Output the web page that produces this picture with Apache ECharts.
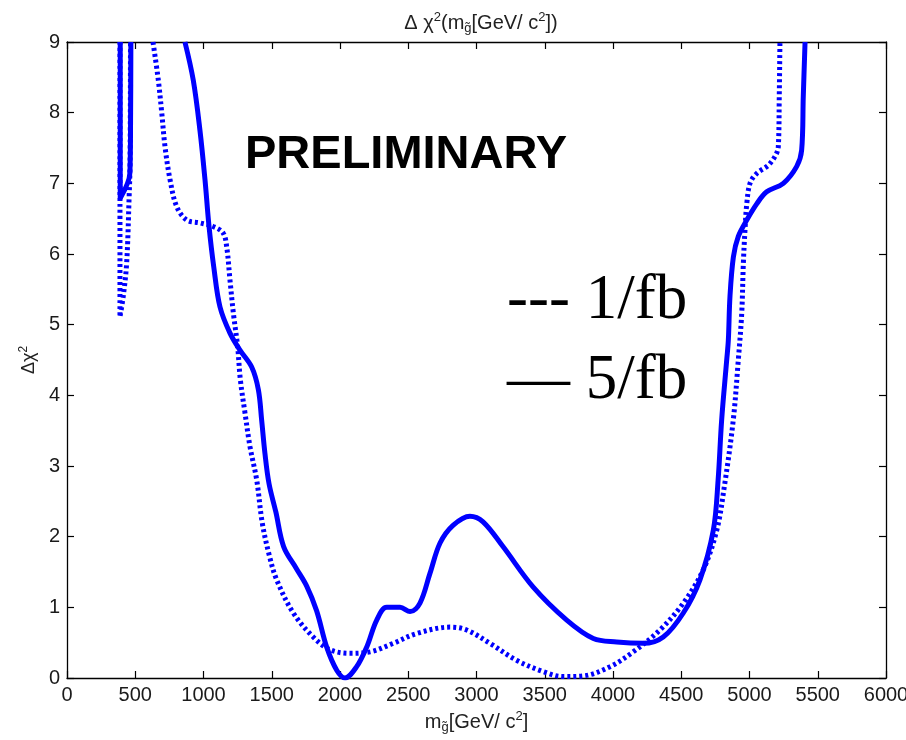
<!DOCTYPE html>
<html>
<head>
<meta charset="utf-8">
<script src="https://cdn.jsdelivr.net/npm/echarts@6/dist/echarts.min.js"></script>
<style>
  html, body { margin: 0; padding: 0; background: #fff; }
  #main { width: 906px; height: 740px; }
</style>
</head>
<body>
<div id="main"></div>
<script>
// 1/fb 曲线（点线），[m, Δχ²]
var dotted1Spike = [[388, 9], [388, 7.0], [388, 5.11], [412, 5.4], [437, 5.87], [455, 6.8], [462, 7.3], [465, 9]];
var dotted1Main = [
  [630, 9], [669, 8.46], [694, 8.0], [718, 7.52], [755, 7.05], [804, 6.67], [877, 6.48], [974, 6.44],
  [1070, 6.39], [1143, 6.3], [1170, 6.1], [1194, 5.63], [1219, 5.16], [1250, 4.69], [1270, 4.22],
  [1304, 3.75], [1341, 3.27], [1390, 2.8], [1430, 2.2], [1480, 1.75], [1536, 1.39], [1658, 0.92],
  [1804, 0.58], [1927, 0.4], [2073, 0.35], [2220, 0.37], [2390, 0.49], [2562, 0.63], [2806, 0.72],
  [2928, 0.68], [3099, 0.49], [3294, 0.25], [3490, 0.09], [3636, 0.02], [3783, 0.03], [3978, 0.16],
  [4148, 0.37], [4344, 0.68], [4515, 1.06], [4661, 1.53], [4760, 2.09], [4815, 2.7], [4881, 3.65],
  [4918, 4.5], [4943, 5.16], [4955, 5.87], [4967, 6.34], [4980, 6.71], [5004, 7.0], [5053, 7.14],
  [5150, 7.28], [5211, 7.52], [5218, 8.23], [5223, 9]
];
// 5/fb 曲线（实线）
var solid5Spike = [[390, 9], [390, 7.5], [390, 6.79], [461, 7.15], [466, 8.0], [468, 9]];
var solid5Main = [
  [864, 9], [925, 8.46], [974, 7.75], [1011, 7.05], [1040, 6.4], [1075, 5.82], [1121, 5.25],
  [1194, 4.88], [1267, 4.64], [1353, 4.4], [1402, 4.08], [1426, 3.65], [1450, 3.18], [1480, 2.75],
  [1530, 2.35], [1587, 1.86], [1680, 1.55], [1756, 1.3], [1829, 0.95], [1902, 0.44], [1976, 0.11],
  [2037, 0.0], [2122, 0.16], [2196, 0.44], [2269, 0.82], [2342, 1.0], [2440, 1.0], [2513, 0.94],
  [2586, 1.06], [2659, 1.48], [2733, 1.91], [2828, 2.16], [2952, 2.29], [3048, 2.21], [3194, 1.86],
  [3414, 1.29], [3661, 0.82], [3856, 0.56], [4027, 0.51], [4222, 0.49], [4368, 0.58], [4515, 0.92],
  [4637, 1.39], [4735, 2.09], [4770, 2.8], [4796, 3.65], [4833, 4.5], [4845, 4.78], [4857, 5.4],
  [4882, 5.96], [4918, 6.25], [4980, 6.48], [5053, 6.71], [5126, 6.88], [5248, 7.0], [5346, 7.24],
  [5382, 7.47], [5394, 8.23], [5407, 9]
];

var xMin = 0, xMax = 6000, xStep = 500;
var yMin = 0, yMax = 9, yStep = 1;

var sans = "'Liberation Sans', Arial, sans-serif";
var blue = '#0000ff';

var myChart = echarts.init(document.getElementById('main'));

var rich = {
  n: { fontSize: 20, fontWeight: 'normal', lineHeight: 24, fontFamily: sans, color: '#222' },
  sup: { fontSize: 13, fontWeight: 'normal', lineHeight: 11, verticalAlign: 'top', fontFamily: sans, color: '#222' },
  sub: { fontSize: 13, fontWeight: 'normal', lineHeight: 9, verticalAlign: 'bottom', fontFamily: sans, color: '#222' }
};

function frameAxis(pos, min, max, step, showLabel) {
  return {
    type: 'value', position: pos, min: min, max: max, interval: step,
    axisLine: { show: true, onZero: false, lineStyle: { color: '#000', width: 1.3 } },
    axisTick: { show: true, inside: true, length: 7, lineStyle: { color: '#000', width: 1.2 } },
    axisLabel: {
      show: showLabel, color: '#1a1a1a', fontSize: 20, fontFamily: sans, margin: 7,
      formatter: function (v) { return String(v); }
    },
    splitLine: { show: false }
  };
}

var xBottom = frameAxis('bottom', xMin, xMax, xStep, true);
xBottom.name = '{n|m}{sub|g̃}{n|[GeV/ c}{sup|2}{n|]}';
xBottom.nameLocation = 'middle';
xBottom.nameGap = 32;
xBottom.nameTextStyle = { rich: rich };

var yLeft = frameAxis('left', yMin, yMax, yStep, true);
yLeft.name = '{n|Δχ}{sup|2}';
yLeft.nameLocation = 'middle';
yLeft.nameGap = 26;
yLeft.nameTextStyle = { rich: { n: { fontSize: 18, lineHeight: 22, fontFamily: sans, color: '#222' }, sup: { fontSize: 12, lineHeight: 10, verticalAlign: 'top', fontFamily: sans, color: '#222' } } };

function lineSeries(data, dashed) {
  return {
    type: 'line', data: data, symbol: 'none', smooth: 0.35,
    z: dashed ? 2 : 3, silent: true, clip: true,
    lineStyle: dashed
      ? { color: blue, width: 5, type: [3, 3], cap: 'butt' }
      : { color: blue, width: 5 }
  };
}

myChart.setOption({
  backgroundColor: '#fff',
  animation: false,
  title: {
    text: '{n|Δ χ}{sup|2}{n|(m}{sub|g̃}{n|[GeV/ c}{sup|2}{n|])}',
    left: 476, top: 6, textAlign: 'center',
    textStyle: { fontWeight: 'normal', rich: rich }
  },
  grid: { left: 67, right: 20, top: 42, bottom: 62, containLabel: false, outerBoundsMode: 'none' },
  xAxis: [xBottom, frameAxis('top', xMin, xMax, xStep, false)],
  yAxis: [yLeft, frameAxis('right', yMin, yMax, yStep, false)],
  series: [
    lineSeries(dotted1Spike, true),
    lineSeries(dotted1Main, true),
    lineSeries(solid5Spike, false),
    lineSeries(solid5Main, false)
  ],
  graphic: [
    { type: 'text', left: 245, top: 132, style: { text: 'PRELIMINARY', font: "bold 47px 'Liberation Sans', Arial, sans-serif", fill: '#000' } },
    { type: 'text', left: 507, top: 270, style: { text: '--- 1/fb', font: "63px 'Liberation Serif', 'Times New Roman', serif", fill: '#000' } },
    { type: 'text', left: 507, top: 350, style: { text: '— 5/fb', font: "63px 'Liberation Serif', 'Times New Roman', serif", fill: '#000' } }
  ]
});
</script>
</body>
</html>
